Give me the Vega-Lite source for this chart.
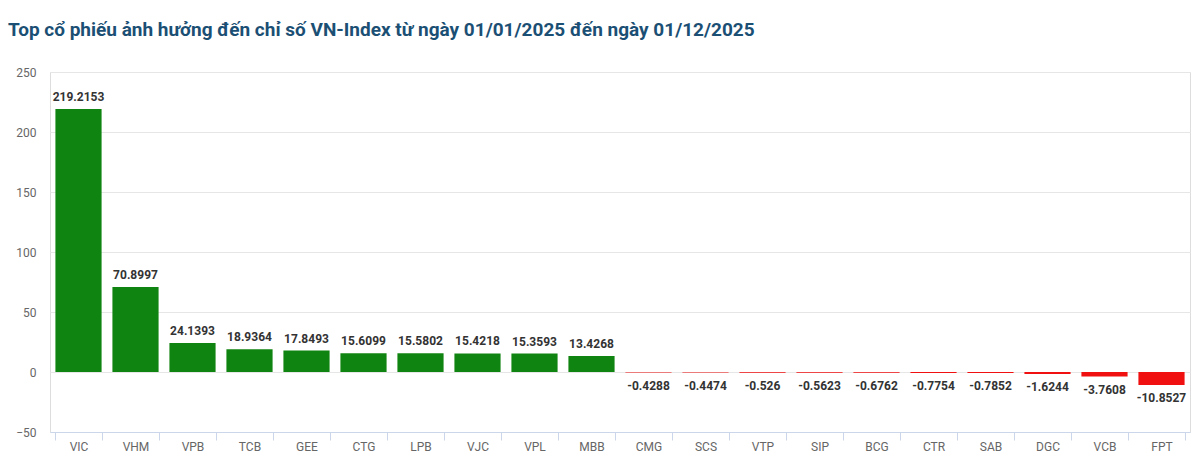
{
  "$schema": "https://vega.github.io/schema/vega-lite/v6.json",
  "width": 1140,
  "height": 360,
  "autosize": {"type": "none"},
  "padding": {"left": 50, "top": 72, "right": 10, "bottom": 37},
  "background": "white",
  "title": {
    "text": "Top cổ phiếu ảnh hưởng đến chỉ số VN-Index từ ngày 01/01/2025 đến ngày 01/12/2025",
    "anchor": "start",
    "frame": "group",
    "dx": -42,
    "offset": 26,
    "font": "Liberation Sans Narrow, Roboto, sans-serif",
    "fontSize": 19,
    "fontWeight": "bold",
    "color": "#1b4f74"
  },
  "data": {
    "values": [
      {"ma": "VIC", "v": 219.2153},
      {"ma": "VHM", "v": 70.8997},
      {"ma": "VPB", "v": 24.1393},
      {"ma": "TCB", "v": 18.9364},
      {"ma": "GEE", "v": 17.8493},
      {"ma": "CTG", "v": 15.6099},
      {"ma": "LPB", "v": 15.5802},
      {"ma": "VJC", "v": 15.4218},
      {"ma": "VPL", "v": 15.3593},
      {"ma": "MBB", "v": 13.4268},
      {"ma": "CMG", "v": -0.4288},
      {"ma": "SCS", "v": -0.4474},
      {"ma": "VTP", "v": -0.526},
      {"ma": "SIP", "v": -0.5623},
      {"ma": "BCG", "v": -0.6762},
      {"ma": "CTR", "v": -0.7754},
      {"ma": "SAB", "v": -0.7852},
      {"ma": "DGC", "v": -1.6244},
      {"ma": "VCB", "v": -3.7608},
      {"ma": "FPT", "v": -10.8527}
    ]
  },
  "encoding": {
    "x": {
      "field": "ma",
      "type": "nominal",
      "sort": null,
      "title": null,
      "scale": {"paddingInner": 0.19, "paddingOuter": 0.095},
      "axis": {
        "labelAngle": 0,
        "labelFont": "Roboto, sans-serif",
        "labelFontSize": 12,
        "labelColor": "#666666",
        "labelPadding": 1,
        "tickBand": "extent",
        "tickColor": "#ccd6eb",
        "tickSize": 8,
        "domainColor": "#ccd6eb",
        "grid": false
      }
    },
    "y": {
      "field": "v",
      "type": "quantitative",
      "title": null,
      "scale": {"domain": [-50, 250], "nice": false},
      "axis": {
        "values": [-50, 0, 50, 100, 150, 200, 250],
        "labelFont": "Roboto, sans-serif",
        "labelFontSize": 12,
        "labelColor": "#666666",
        "labelPadding": 14,
        "ticks": false,
        "domain": false,
        "gridColor": "#e6e6e6"
      }
    }
  },
  "layer": [
    {
      "mark": {"type": "bar"},
      "encoding": {
        "color": {
          "condition": {"test": "datum.v >= 0", "value": "#108410"},
          "value": "#f01010"
        }
      }
    },
    {
      "transform": [{"filter": "datum.v >= 0"}],
      "mark": {"type": "text", "baseline": "bottom", "dy": -5, "font": "Roboto, sans-serif", "fontSize": 12, "fontWeight": "bold", "color": "#333333"},
      "encoding": {"text": {"field": "v", "type": "nominal"}}
    },
    {
      "transform": [{"filter": "datum.v < 0"}],
      "mark": {"type": "text", "baseline": "top", "dy": 8, "font": "Roboto, sans-serif", "fontSize": 12, "fontWeight": "bold", "color": "#333333"},
      "encoding": {"text": {"field": "v", "type": "nominal"}}
    }
  ]
}
